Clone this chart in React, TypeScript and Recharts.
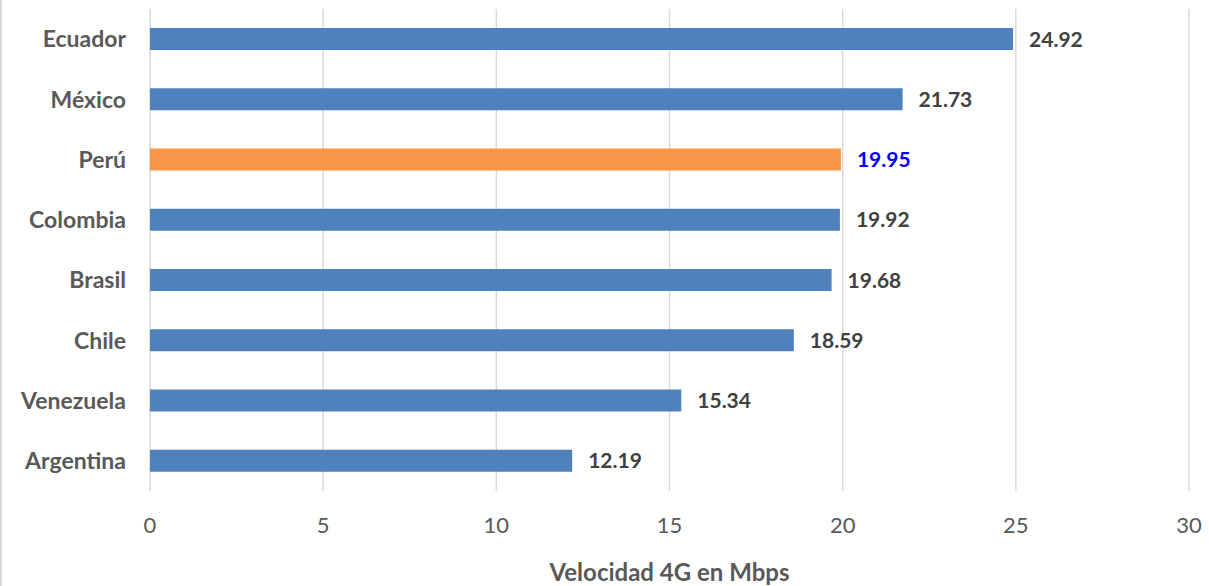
import { BarChart, Bar, XAxis, YAxis, CartesianGrid, Cell, LabelList } from "recharts"

const countries = ["Ecuador", "México", "Perú", "Colombia", "Brasil", "Chile", "Venezuela", "Argentina"]
const speeds = [24.92, 21.73, 19.95, 19.92, 19.68, 18.59, 15.34, 12.19]
const xTicks = [0, 5, 10, 15, 20, 25, 30]
const highlight = "Perú"

const data = countries.map((name, i) => ({ name, value: speeds[i] }))

const font = "Lato, Calibri, 'Open Sans', sans-serif"

function ValueLabel(props: any) {
  const { x, y, width, height, value, index } = props
  const isHighlight = countries[index] === highlight
  return (
    <text
      x={x + width + 16}
      y={y + height / 2}
      dy="0.36em"
      fill={isHighlight ? "#0000ff" : "#404040"}
      fontSize={21}
      fontWeight="bold"
      fontFamily={font}
    >
      {Number(value).toFixed(2)}
    </text>
  )
}

export default function App() {
  return (
    <div style={{ position: "absolute", left: 0, top: 0, width: 1209, height: 586, background: "#fff" }}>
      <div style={{ position: "absolute", left: 0, top: 0, width: 2, height: 586, background: "#d9d9d9" }} />
      <BarChart
        width={1209}
        height={586}
        data={data}
        layout="vertical"
        margin={{ top: 9, right: 20, bottom: 0, left: 0 }}
        barCategoryGap={0}
      >
        <CartesianGrid horizontal={false} stroke="#d9d9d9" strokeWidth={1.5} />
        <XAxis
          type="number"
          domain={[0, 30]}
          ticks={xTicks}
          axisLine={false}
          tickLine={false}
          tickMargin={20}
          height={95}
          tick={{ fill: "#595959", fontSize: 22, fontFamily: font }}
          label={{
            value: "Velocidad 4G en Mbps",
            position: "insideBottom",
            offset: 5,
            fill: "#595959",
            fontSize: 24,
            fontWeight: "bold",
            fontFamily: font,
          }}
        />
        <YAxis
          type="category"
          dataKey="name"
          width={150}
          axisLine={false}
          tickLine={false}
          tickMargin={18}
          tick={{ fill: "#595959", fontSize: 23, fontWeight: "bold", fontFamily: font }}
        />
        <Bar dataKey="value" barSize={22} isAnimationActive={false}>
          {data.map((d) => (
            <Cell key={d.name} fill={d.name === highlight ? "#f79646" : "#4f81bd"} />
          ))}
          <LabelList dataKey="value" content={ValueLabel} />
        </Bar>
      </BarChart>
    </div>
  )
}
